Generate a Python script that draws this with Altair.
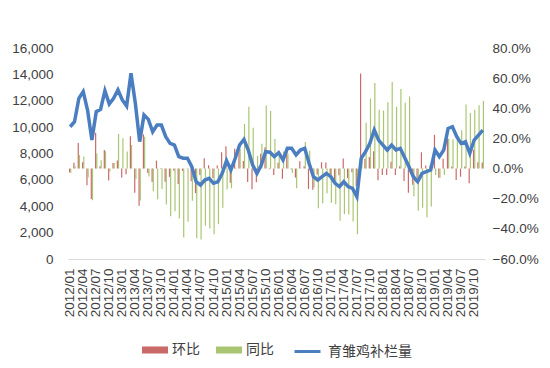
import altair as alt
import pandas as pd

months = [f"{y}/{m:02d}" for y in range(2012, 2020) for m in range(1, 13)]
tick_labels = months[::3]

# 育雏鸡补栏量 (left axis)
restock = [
    10030, 10410, 12180, 12690, 11300, 9020, 11170, 11350, 12760, 11750, 12180, 12820,
    12060, 11600, 14080, 11810, 8900, 10920, 10590, 9650, 10160, 10160, 9280, 8770,
    8640, 7760, 7640, 7640, 7000, 5860, 5610, 5990, 6120, 5740, 5860, 6490,
    7450, 6750, 7640, 8640, 9070, 8265, 7130, 6490, 7130, 8140, 8100, 7760,
    8060, 7510, 8390, 8390, 7890, 8265, 8390, 7260, 6240, 5990, 6240, 6490,
    6240, 5740, 5490, 5860, 5490, 5360, 4730, 7640, 8140, 8770, 9780, 9020,
    8640, 8265, 8640, 8265, 8390, 7700, 6990, 6240, 5860, 6490, 6620, 6750,
    8265, 7760, 8265, 9900, 10030, 9270, 8770, 8890, 8015, 9020, 9400, 9780,
]

# 环比 (%), right axis
mom = [
    -2.5, 3.8, 17.0, 4.2, -11.0, -20.2, 23.8, 1.6, 12.4, -7.9, 3.7, 5.3,
    -5.9, -3.8, 21.4, -16.1, -24.6, 22.7, -3.0, -8.9, 5.3, 0.3, -8.7, -5.5,
    -1.5, -10.2, -1.5, 0.2, -8.4, -16.3, -4.3, 6.8, 2.2, -6.2, 2.1, 10.8,
    14.8, -9.4, 13.2, 13.1, 5.0, -8.9, -13.7, -9.0, 9.9, 14.2, -0.5, -4.2,
    3.9, -6.8, 11.7, -0.4, -6.0, 4.8, 1.5, -13.5, -14.0, -4.0, 4.2, 4.0,
    -3.9, -8.0, -4.4, 6.7, -6.3, -2.4, -11.8, 63.0, 6.5, 7.7, 11.5, -7.8,
    -4.2, -4.3, 4.5, -4.3, 1.5, -8.2, -16.0, -10.7, -6.1, 10.8, 2.0, 2.0,
    22.4, -6.1, 6.5, 19.8, 1.3, -7.6, -5.4, 1.4, -9.8, 12.5, 4.2, 4.0,
]

# 同比 (%), right axis
yoy = [
    -3.0, 1.5, 9.0, 8.0, -6.0, -21.0, 10.0, 5.5, 11.5, -2.0, 3.7, 23.0,
    20.2, 11.4, 15.6, -6.9, -21.2, 21.1, -5.2, -15.0, -20.4, -13.5, -23.8, -31.6,
    -28.4, -33.1, -45.7, -35.3, -21.3, -46.3, -47.0, -37.9, -39.8, -43.5, -36.9, -26.0,
    -13.8, -13.0, 0.3, 13.1, 29.6, 41.0, 27.1, 8.3, 16.5, 41.8, 38.2, 19.6,
    8.2, 11.3, 9.8, -2.9, -13.0, 0.2, 17.7, 11.9, -12.5, -26.4, -23.0, -16.4,
    -22.6, -23.6, -34.6, -30.2, -30.4, -35.1, -43.6, 5.2, 30.4, 46.4, 56.7, 39.0,
    38.5, 44.0, 57.4, 41.0, 52.8, 43.7, 47.8, -18.3, -28.0, -26.0, -32.3, -25.2,
    -4.3, -6.1, -4.3, 19.8, 19.5, 20.4, 25.5, 42.5, 36.8, 39.0, 42.0, 44.9,
]

bar_series = ["环比", "同比"]
bar_colors = ["#C0504D", "#9BBB59"]
line_name = "育雏鸡补栏量"
line_color = "#4A7EC0"
left_ticks = [0, 2000, 4000, 6000, 8000, 10000, 12000, 14000, 16000]
right_ticks = [-0.6, -0.4, -0.2, 0.0, 0.2, 0.4, 0.6, 0.8]

line_df = pd.DataFrame({"month": months, "restock": restock, "name": [line_name] * len(months)})
bar_df = pd.DataFrame({
    "month": months * 2,
    "series": ["环比"] * len(months) + ["同比"] * len(months),
    "pct": [v / 100 for v in mom] + [v / 100 for v in yoy],
})

FONT = "Liberation Sans"
LABEL_COLOR = "#404040"

x_enc = alt.X(
    "month:O",
    sort=months,
    scale=alt.Scale(type="band", paddingInner=0.45, paddingOuter=0.225),
    axis=alt.Axis(
        values=tick_labels, labelAngle=-90, labelFontSize=13.5, labelPadding=9,
        ticks=False, domainColor="#D9D9D9", title=None, labelOverlap=False,
        labelFont=FONT, labelColor=LABEL_COLOR,
    ),
)

bar_legend = alt.Legend(
    title=None, orient="none", legendX=74, legendY=289, direction="horizontal",
    symbolType="M-1,-0.27H1V0.27H-1Z", symbolSize=676, symbolStrokeWidth=0,
    labelFont="Noto Sans CJK SC", labelFontSize=14, labelColor=LABEL_COLOR,
    labelOffset=4, columnPadding=16, padding=0,
)

line_legend = alt.Legend(
    title=None, orient="none", legendX=225, legendY=289, direction="horizontal",
    symbolType="stroke", symbolSize=676, symbolStrokeWidth=3,
    labelFont="Noto Sans CJK SC", labelFontSize=14, labelColor=LABEL_COLOR,
    labelOffset=6, padding=0,
)

bars = alt.Chart(bar_df).mark_bar(opacity=0.85).encode(
    x=x_enc,
    xOffset=alt.XOffset("series:N", sort=bar_series, scale=alt.Scale(domain=bar_series)),
    y=alt.Y(
        "pct:Q",
        scale=alt.Scale(domain=[-0.6, 0.8], nice=False),
        axis=alt.Axis(
            orient="right", values=right_ticks, format=".1%", grid=False, domain=False,
            ticks=False, labelPadding=7, title=None, labelFontSize=13.5,
            labelFont=FONT, labelColor=LABEL_COLOR,
        ),
    ),
    color=alt.Color("series:N", scale=alt.Scale(domain=bar_series, range=bar_colors), legend=bar_legend),
)

line = alt.Chart(line_df).mark_line(strokeWidth=3.5).encode(
    x=x_enc,
    y=alt.Y(
        "restock:Q",
        scale=alt.Scale(domain=[0, 16000], nice=False),
        axis=alt.Axis(
            orient="left", values=left_ticks, format=",.0f", grid=False, domain=False,
            ticks=False, labelPadding=15, title=None, labelFontSize=13.5,
            labelFont=FONT, labelColor=LABEL_COLOR,
        ),
    ),
    stroke=alt.Stroke("name:N", scale=alt.Scale(domain=[line_name], range=[line_color]), legend=line_legend),
)

chart = alt.layer(bars, line).resolve_scale(y="independent").properties(
    width=417, height=211,
    autosize=alt.AutoSizeParams(type="none"),
    padding={"left": 60, "top": 40, "right": 57, "bottom": 101},
).configure_view(stroke=None)

chart.save("out.html", embed_options={"renderer": "svg", "actions": False})
